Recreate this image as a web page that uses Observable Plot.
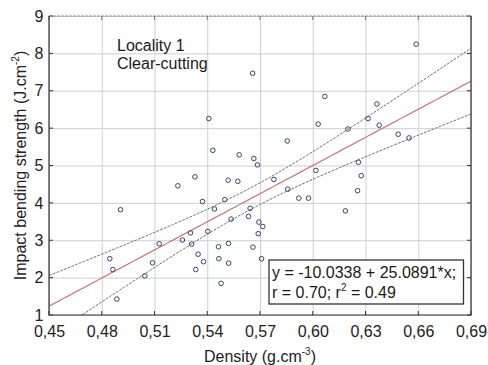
<!DOCTYPE html>
<html>
<head>
<meta charset="utf-8">
<script src="https://cdn.jsdelivr.net/npm/d3@7"></script>
<script src="https://cdn.jsdelivr.net/npm/@observablehq/plot@0.6"></script>
<style>
  html, body { margin: 0; padding: 0; background: #fff; }
  #chart { width: 488px; height: 365px; }
</style>
</head>
<body>
<div id="chart"></div>
<script>
// ---- Data ----
const density = [0.6585,0.5655,0.6066,0.5406,0.6362,0.6028,0.6312,0.6197,0.6375,0.6483,
  0.6545,0.5852,0.5429,0.5579,0.5662,0.5683,0.6257,0.6015,0.6273,0.5327,
  0.5230,0.5516,0.5571,0.5776,0.5855,0.6252,0.5918,0.5973,0.5497,0.5370,
  0.4904,0.5438,0.5641,0.6183,0.5632,0.5533,0.5691,0.5713,0.5400,0.5302,
  0.5687,0.5124,0.5256,0.5308,0.5518,0.5461,0.5657,0.5345,0.4843,0.5463,
  0.5706,0.5376,0.5086,0.5519,0.4860,0.5332,0.5042,0.5476,0.4883];
const strength = [8.26,7.48,6.86,6.27,6.66,6.12,6.27,5.99,6.09,5.85,
  5.75,5.67,5.42,5.30,5.20,5.03,5.10,4.88,4.74,4.71,
  4.47,4.62,4.59,4.64,4.38,4.34,4.14,4.14,4.10,4.05,
  3.83,3.85,3.87,3.80,3.65,3.58,3.50,3.38,3.25,3.21,
  3.19,2.92,3.02,2.91,2.93,2.84,2.83,2.64,2.52,2.52,
  2.52,2.44,2.41,2.40,2.23,2.23,2.06,1.86,1.44];
const intercept = -10.0338;
const slope = 25.0891;
const xTicks = [0.45,0.48,0.51,0.54,0.57,0.60,0.63,0.66,0.69];
const yTicks = [1,2,3,4,5,6,7,8,9];
const titleLines = ["Locality 1", "Clear-cutting"];
const eqLine = "y = -10.0338 + 25.0891*x;";

// ---- Derived ----
const points = density.map((d, i) => ({x: d, y: strength[i]}));
const n = points.length;
const xbar = d3.mean(density);
const Sxx = d3.sum(density, d => (d - xbar) ** 2);
const sse = d3.sum(points, p => (p.y - (intercept + slope * p.x)) ** 2);
const s = Math.sqrt(sse / (n - 2));
const tcrit = 2.002;
const grid = d3.range(0, 97).map(i => 0.45 + i * 0.0025);
const fitLine = grid.map(x => ({x, y: intercept + slope * x}));
const half = x => tcrit * s * Math.sqrt(1 / n + (x - xbar) ** 2 / Sxx);
const upper = grid.map(x => ({x, y: intercept + slope * x + half(x)}));
const lower = grid.map(x => ({x, y: intercept + slope * x - half(x)}));

const font = "'Liberation Sans', Arial, Helvetica, sans-serif";

const plot = Plot.plot({
  width: 488,
  height: 365,
  marginLeft: 49,
  marginRight: 17,
  marginTop: 16,
  marginBottom: 50,
  style: {fontFamily: font, fontSize: "16px", background: "#fff", color: "#222"},
  x: {domain: [0.45, 0.69], label: null},
  y: {domain: [1, 9], label: null},
  marks: [
    Plot.gridX(xTicks, {stroke: "#cfcfcf", strokeOpacity: 1}),
    Plot.gridY(yTicks, {stroke: "#cfcfcf", strokeOpacity: 1}),
    Plot.line(upper, {x: "x", y: "y", stroke: "#6f6f6f", strokeWidth: 1, strokeDasharray: "2,2", clip: true}),
    Plot.line(lower, {x: "x", y: "y", stroke: "#6f6f6f", strokeWidth: 1, strokeDasharray: "2,2", clip: true}),
    Plot.line(fitLine, {x: "x", y: "y", stroke: "#c46a6a", strokeWidth: 1.1, clip: true}),
    Plot.dot(points, {x: "x", y: "y", r: 2.3, stroke: "#3b4170", strokeWidth: 1, fill: "none"}),
    Plot.axisX(xTicks, {tickSize: 0, tickPadding: 10, tickFormat: d => d.toFixed(2).replace(".", ","), fontSize: 16, fill: "#222"}),
    Plot.axisY(yTicks, {tickSize: 0, tickPadding: 6, fontSize: 16, fill: "#222"})
  ]
});

document.getElementById("chart").appendChild(plot);

const X = plot.scale("x"), Y = plot.scale("y");
const x0 = X.apply(0.45), x1 = X.apply(0.69);
const y0 = Y.apply(1), y1 = Y.apply(9);
const svg = d3.select(plot);
const g = svg.append("g").attr("text-anchor", "start");

// inward ticks
xTicks.forEach(v => {
  const px = X.apply(v);
  g.append("line").attr("x1", px).attr("x2", px).attr("y1", y0).attr("y2", y0 - 4).attr("stroke", "#333");
  g.append("line").attr("x1", px).attr("x2", px).attr("y1", y1).attr("y2", y1 + 4).attr("stroke", "#777");
});
yTicks.forEach(v => {
  const py = Y.apply(v);
  g.append("line").attr("x1", x0).attr("x2", x0 + 4).attr("y1", py).attr("y2", py).attr("stroke", "#333");
  g.append("line").attr("x1", x1).attr("x2", x1 - 4).attr("y1", py).attr("y2", py).attr("stroke", "#333");
});
// frame
g.append("line").attr("x1", x0).attr("x2", x1).attr("y1", y1).attr("y2", y1).attr("stroke", "#8a8a8a").attr("stroke-dasharray", "3,1");
g.append("path").attr("d", `M${x0},${y1}V${y0}H${x1}V${y1}`).attr("fill", "none").attr("stroke", "#333").attr("stroke-width", 1.2);

// locality text
const t = g.append("text").attr("text-anchor", "start").attr("font-family", font).attr("font-size", 16).attr("fill", "#1a1a1a");
t.append("tspan").attr("x", x0 + 68).attr("y", y1 + 35).text(titleLines[0]);
t.append("tspan").attr("x", x0 + 68).attr("y", y1 + 53).text(titleLines[1]);

// equation box
const bx = x1 - 202, by = y0 - 55, bw = 194.5, bh = 44;
g.append("rect").attr("x", bx).attr("y", by).attr("width", bw).attr("height", bh)
  .attr("fill", "#fff").attr("stroke", "#333").attr("stroke-width", 1.3);
g.append("text").attr("text-anchor", "start").attr("font-family", font).attr("font-size", 16).attr("fill", "#1a1a1a")
  .attr("x", bx + 3).attr("y", by + 18).text(eqLine);
const e2 = g.append("text").attr("text-anchor", "start").attr("font-family", font).attr("font-size", 16).attr("fill", "#1a1a1a")
  .attr("x", bx + 3).attr("y", by + 38);
e2.append("tspan").text("r = 0.70; r");
e2.append("tspan").attr("font-size", 10).attr("dy", -7).text("2");
e2.append("tspan").attr("dy", 7).text(" = 0.49");

// axis labels
const xl = g.append("text").attr("font-family", font).attr("font-size", 16).attr("fill", "#222")
  .attr("text-anchor", "middle").attr("x", (x0 + x1) / 2).attr("y", 362);
xl.append("tspan").text("Density (g.cm");
xl.append("tspan").attr("font-size", 10).attr("dy", -7).text("-3");
xl.append("tspan").attr("dy", 7).text(")");

const yl = g.append("text").attr("font-family", font).attr("font-size", 16).attr("fill", "#222")
  .attr("text-anchor", "middle")
  .attr("transform", `translate(26,${(y0 + y1) / 2}) rotate(-90)`);
yl.append("tspan").text("Impact bending strength (J.cm");
yl.append("tspan").attr("font-size", 10).attr("dy", -7).text("-2");
yl.append("tspan").attr("dy", 7).text(")");
</script>
</body>
</html>
